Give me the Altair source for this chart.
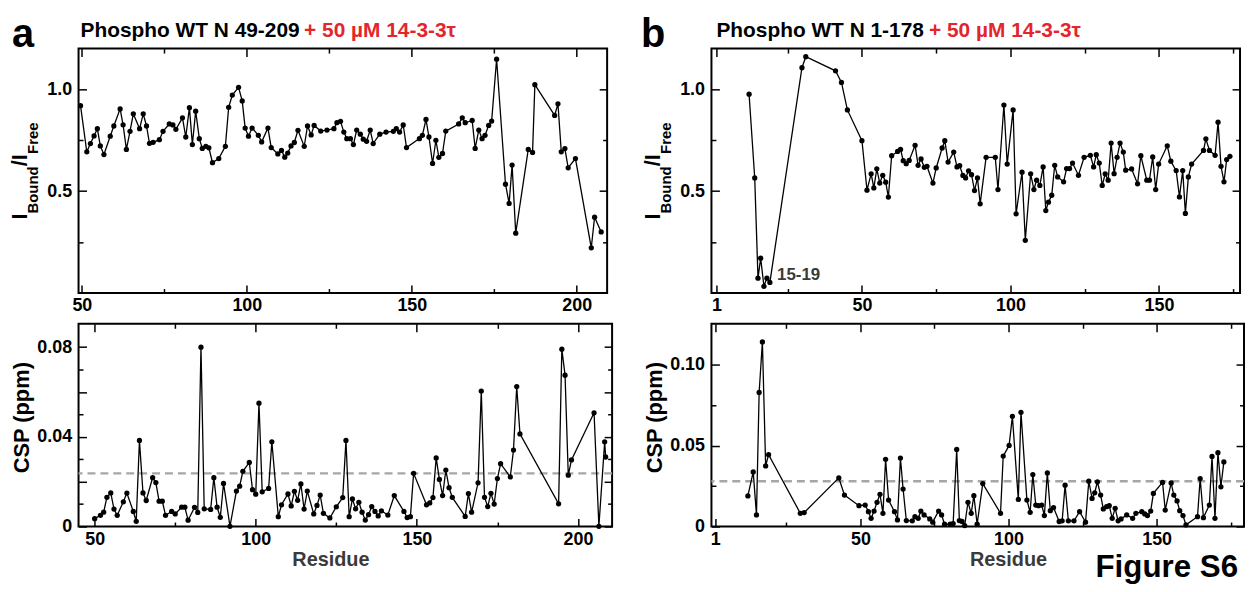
import altair as alt
import pandas as pd

FONT = "Liberation Sans"
RED = "#e3262b"

# ---------------- data ----------------
A_TOP_RES = [49.6, 51.5, 52.6, 53.7, 54.7, 55.6, 56.7, 58.6, 59.7, 61.6,
             62.5, 63.5, 64.6, 65.6, 67.5, 68.6, 69.6, 70.5, 71.6, 73.5,
             74.6, 76.5, 77.6, 78.5, 80.5, 81.5, 82.6, 83.5, 84.5, 85.6,
             86.5, 87.6, 88.5, 89.6, 91.5, 93.5, 94.5, 95.6, 97.5, 98.6,
             99.5, 100.5, 101.6, 103.5, 104.5, 106.4, 107.4, 109.4, 110.5, 111.5,
             112.4, 113.4, 114.4, 115.5, 117.4, 118.4, 119.5, 120.4, 122.4, 124.3,
             126.4, 127.3, 128.4, 129.4, 130.3, 131.4, 132.3, 133.3, 134.4, 135.3,
             136.3, 137.4, 138.3, 140.3, 142.2, 144.4, 145.3, 146.3, 147.4, 148.4,
             152.3, 153.2, 154.3, 155.2, 156.3, 157.3, 158.2, 159.3, 160.3, 164.2,
             165.3, 166.2, 168.3, 169.2, 170.3, 171.3, 172.2, 173.3, 174.2, 175.7,
             178.4, 179.5, 180.4, 181.5, 185.3, 186.6, 187.3, 193.3, 194.3, 195.3,
             196.4, 197.4, 199.6, 204.4, 205.4, 207.4]
A_TOP_VAL = [0.92, 0.693, 0.734, 0.771, 0.807, 0.722, 0.68, 0.77, 0.82, 0.904,
             0.826, 0.705, 0.794, 0.88, 0.807, 0.88, 0.82, 0.735, 0.74, 0.753,
             0.794, 0.83, 0.825, 0.804, 0.86, 0.766, 0.91, 0.729, 0.893, 0.758,
             0.71, 0.72, 0.713, 0.64, 0.66, 0.72, 0.912, 0.972, 1.01, 0.943,
             0.81, 0.77, 0.81, 0.774, 0.742, 0.81, 0.714, 0.683, 0.70, 0.667,
             0.687, 0.722, 0.739, 0.799, 0.72, 0.82, 0.776, 0.823, 0.795, 0.80,
             0.807, 0.836, 0.843, 0.79, 0.758, 0.758, 0.729, 0.80, 0.78, 0.755,
             0.745, 0.80, 0.734, 0.78, 0.79, 0.794, 0.807, 0.79, 0.825, 0.714,
             0.758, 0.774, 0.852, 0.766, 0.636, 0.75, 0.666, 0.685, 0.795, 0.83,
             0.86, 0.836, 0.847, 0.71, 0.80, 0.758, 0.774, 0.823, 0.844, 1.148,
             0.534, 0.44, 0.628, 0.294, 0.705, 0.69, 1.023, 0.872, 0.929, 0.693,
             0.709, 0.615, 0.66, 0.222, 0.372, 0.30]

A_BOT_RES = [50, 51.8, 52.8, 53.8, 55, 56, 57, 58.9, 60, 62,
             62.9, 63.9, 65, 66, 68, 69, 70, 71, 72, 73.9,
             75, 77, 78, 79, 81, 82, 83, 84, 86, 87,
             88, 89, 90, 92, 94, 95, 96, 98, 99, 100,
             101, 102, 104, 105, 107, 108, 110, 111, 112, 113,
             114, 115, 116, 118, 119, 120, 121, 123, 125, 127,
             128, 129, 130, 131, 132, 133, 134, 135, 136, 137,
             138, 139, 141, 143, 146, 147, 148, 149, 153, 154,
             155, 156, 157, 158, 159, 160, 161, 165, 166, 167,
             169, 170, 171, 172, 173, 174, 175, 176, 179, 180,
             181, 182, 194, 195, 196, 197, 198, 205, 206.5, 208.3,
             208.6]
A_BOT_VAL = [0.0035, 0.005, 0.0064, 0.013, 0.015, 0.0078, 0.005, 0.011, 0.0149, 0.0067,
             0.0023, 0.0384, 0.015, 0.0116, 0.0218, 0.0196, 0.0113, 0.0113, 0.005, 0.0067,
             0.0056, 0.0086, 0.0086, 0.0028, 0.0085, 0.0063, 0.080, 0.0079, 0.0076, 0.0218,
             0.0086, 0.0041, 0.0192, 0.0001, 0.0158, 0.018, 0.0246, 0.0286, 0.0164, 0.0144,
             0.055, 0.0155, 0.017, 0.0378, 0.0044, 0.0097, 0.0145, 0.0092, 0.0157, 0.0117,
             0.019, 0.0078, 0.0158, 0.0056, 0.0094, 0.014, 0.0059, 0.0038, 0.0088, 0.0129,
             0.0384, 0.0044, 0.0123, 0.0079, 0.0108, 0.0064, 0.0029, 0.0053, 0.0089, 0.0067,
             0.0047, 0.007, 0.0051, 0.0138, 0.0067, 0.004, 0.0044, 0.0237, 0.0097, 0.0105,
             0.0129, 0.0306, 0.021, 0.0138, 0.0252, 0.0173, 0.013, 0.0045, 0.0147, 0.0064,
             0.0195, 0.0604, 0.013, 0.0089, 0.0148, 0.010, 0.0214, 0.028, 0.0221, 0.0341,
             0.0624, 0.0413, 0.0101, 0.0791, 0.0675, 0.0229, 0.0297, 0.0507, 0.0001, 0.0378,
             0.031]

B_TOP_RES = [12, 13.9, 15, 15.9, 17, 18, 19, 29.8, 31.1, 41.1,
             43.1, 45.1, 50, 51.7, 53.1, 54, 55, 56, 57, 58,
             58.9, 60, 62, 63, 63.9, 64.9, 65.9, 67.9, 68.9, 69.9,
             71, 71.9, 73.9, 75, 77, 77.9, 79, 80.9, 82, 82.9,
             84, 84.9, 85.9, 86.9, 87.9, 88.9, 89.8, 91.8, 94.9, 95.8,
             97.8, 98.9, 100.9, 101.9, 103.9, 105, 106.8, 107.9, 108.8, 109.9,
             111, 111.9, 112.8, 113.9, 114.9, 115.9, 117.9, 118.9, 119.9, 120.9,
             122.9, 124.8, 126.9, 128, 128.9, 129.9, 130.9, 131.9, 132.9, 133.9,
             134.9, 135.9, 136.9, 138, 138.8, 140.8, 142.8, 143.9, 145.9, 146.8,
             147.9, 148.9, 149.9, 152.8, 154, 155.8, 156.9, 158, 158.9, 159.9,
             161, 165, 165.8, 167, 168.9, 169.9, 170.9, 171.9, 172.8, 173.9]
B_TOP_VAL = [0.976, 0.565, 0.073, 0.171, 0.033, 0.073, 0.052, 1.106, 1.16, 1.091,
             1.034, 0.899, 0.748, 0.505, 0.585, 0.516, 0.61, 0.54, 0.578, 0.544,
             0.471, 0.674, 0.695, 0.705, 0.65, 0.635, 0.651, 0.725, 0.627, 0.658,
             0.617, 0.622, 0.54, 0.614, 0.712, 0.748, 0.643, 0.692, 0.619, 0.625,
             0.577, 0.565, 0.60, 0.581, 0.503, 0.565, 0.438, 0.666, 0.666, 0.508,
             0.923, 0.633, 0.899, 0.389, 0.593, 0.259, 0.585, 0.508, 0.554, 0.528,
             0.619, 0.405, 0.446, 0.48, 0.627, 0.57, 0.546, 0.611, 0.611, 0.638,
             0.578, 0.666, 0.676, 0.619, 0.679, 0.638, 0.528, 0.585, 0.554, 0.736,
             0.586, 0.666, 0.736, 0.692, 0.603, 0.609, 0.536, 0.674, 0.554, 0.554,
             0.668, 0.508, 0.633, 0.723, 0.647, 0.601, 0.472, 0.601, 0.391, 0.57,
             0.633, 0.70, 0.757, 0.70, 0.676, 0.839, 0.622, 0.546, 0.655, 0.671]

B_BOT_RES = [12, 13.8, 14.9, 15.8, 16.9, 18, 19, 29.7, 31, 42.7,
             44.6, 49.5, 51.6, 52.7, 53.6, 54.6, 55.6, 56.6, 57.6, 58.5,
             59.5, 61.5, 62.5, 63.5, 64.4, 65.5, 67.5, 68.4, 69.5, 70.4,
             71.5, 73.4, 74.4, 76.4, 77.4, 78.4, 80.3, 81.3, 82.5, 83.4,
             84.3, 85.2, 86.3, 87.4, 88.3, 89.4, 91.3, 97.3, 98.2, 100.2,
             101.3, 103.3, 104.2, 106.2, 107.3, 108.2, 109.2, 110.1, 111.2, 112.1,
             113.1, 114.1, 115.2, 117.1, 118.1, 119.1, 120.2, 122.1, 124, 126,
             127.1, 128.2, 129.1, 130, 131.1, 132, 133.1, 134, 135, 136,
             137, 138, 139.9, 141.9, 143, 145, 146, 146.9, 148, 148.9,
             152, 152.9, 154.9, 155.8, 156.9, 157.8, 158.9, 159.9, 163.8, 164.7,
             165.8, 167.8, 168.7, 169.7, 170.7, 171.7, 172.7]
B_BOT_VAL = [0.0189, 0.0338, 0.0072, 0.083, 0.1143, 0.0375, 0.0445, 0.0082, 0.0086, 0.0301,
             0.0195, 0.0129, 0.0133, 0.0092, 0.0051, 0.0096, 0.015, 0.0199, 0.0082, 0.0416,
             0.0164, 0.0092, 0.0041, 0.0424, 0.0232, 0.0037, 0.0035, 0.0061, 0.0051, 0.0096,
             0.0072, 0.0047, 0.0027, 0.0096, 0.0072, 0.0014, 0.0014, 0.0018, 0.0477, 0.0037,
             0.0031, 0.0006, 0.015, 0.0082, 0.0191, 0.0014, 0.0266, 0.0082, 0.0436, 0.0502,
             0.0682, 0.0168, 0.0707, 0.0164, 0.0088, 0.0322, 0.0133, 0.0129, 0.0133, 0.0068,
             0.0332, 0.0098, 0.0117, 0.0031, 0.0035, 0.0256, 0.0035, 0.0035, 0.0092, 0.0027,
             0.0281, 0.0174, 0.0209, 0.0277, 0.0195, 0.0109, 0.0123, 0.0129, 0.0051, 0.0113,
             0.0035, 0.0047, 0.0072, 0.0051, 0.0082, 0.0092, 0.0078, 0.0068, 0.0096, 0.0205,
             0.0273, 0.0102, 0.027, 0.0195, 0.0158, 0.0098, 0.0068, 0.001, 0.0061, 0.0297,
             0.0055, 0.0133, 0.0434, 0.0051, 0.0457, 0.0246, 0.040]

A_THRESH = [0.0237]
B_THRESH = [0.028]

# tick values: major (long, may carry a label), minor (short), labelled
A_X_MAJOR = [50, 100, 150, 200]
A_X_MINOR = [75, 125, 175]
A_X_LABELED = [50, 100, 150, 200]
B_X_MAJOR = [1, 50, 100, 150]
B_X_MINOR = [25, 75, 125, 175]
B_X_LABELED = [1, 50, 100, 150]
TOP_Y_MAJOR = [0.5, 1.0]
TOP_Y_MINOR = [0.25, 0.75]
TOP_Y_LABELED = [0.5, 1.0]
A_CSP_MAJOR = [0, 0.02, 0.04, 0.06, 0.08]
A_CSP_MINOR = [0.01, 0.03, 0.05, 0.07]
A_CSP_LABELED = [0, 0.04, 0.08]
B_CSP_MAJOR = [0, 0.05, 0.1]
B_CSP_MINOR = [0.025, 0.075]
B_CSP_LABELED = [0, 0.05, 0.1]

TITLE_A = "Phospho WT N 49-209"
TITLE_B = "Phospho WT N 1-178"
TITLE_RED = "+ 50 \u00b5M 14-3-3\u03c4"
YT_MAIN = ["I", "/I"]
YT_SUB = ["Bound", "Free"]
CSP_TITLE = "CSP (ppm)"
X_TITLE = "Residue"
ANNOT = "15-19"
FIG_LABEL = "Figure S6"

# ---------------- helpers ----------------
MAJ = 8
MIN = 4.5
AXC = dict(domain=False, grid=False, ticks=True, tickWidth=1.5,
           tickColor="black", title=None, labelFont=FONT,
           labelFontSize=18, labelFontWeight="bold", labelColor="black",
           labelFlush=False, labelOverlap=False)
AX_MAJ = dict(AXC, tickSize=MAJ, offset=-MAJ)
AX_MIN = dict(AXC, tickSize=MIN, offset=-MIN, labels=False)


def lab_expr(labeled, fmt):
    arr = "[" + ",".join(str(v) for v in labeled) + "]"
    return (f"indexof({arr}, datum.value) >= 0 ? "
            f"(datum.value == 0 ? '0' : format(datum.value, '{fmt}')) : ''")


def txt(s, x, y, size, color="black", angle=0, align="left", baseline="alphabetic"):
    kw = dict(align=align, baseline=baseline, fontSize=size, fontWeight="bold",
              font=FONT, color=color)
    if angle:
        kw["angle"] = angle
    return alt.Chart(pd.DataFrame({"t": [s]})).mark_text(**kw).encode(
        text="t:N", x=alt.value(x), y=alt.value(y))


def panel(res, val, xdom, ydom, w, h, xmaj, xmin, xlab, xfmt,
          ymaj, ymin, ylab, yfmt, pre=(), post=()):
    df = pd.DataFrame({"res": res, "val": val})
    xs = alt.Scale(domain=xdom, nice=False, zero=False)
    ys = alt.Scale(domain=ydom, nice=False, zero=False)
    base = alt.Chart(df)
    line = base.mark_line(color="black", strokeWidth=1.3).encode(
        x=alt.X("res:Q", scale=xs, axis=alt.Axis(orient="bottom", values=xmaj,
                labelExpr=lab_expr(xlab, xfmt), labelPadding=4, **AX_MAJ)),
        y=alt.Y("val:Q", scale=ys, axis=alt.Axis(orient="left", values=ymaj,
                labelExpr=lab_expr(ylab, yfmt), labelPadding=7, **AX_MAJ)))
    pts = base.mark_circle(size=28, color="black", opacity=1).encode(
        x=alt.X("res:Q", scale=xs, axis=alt.Axis(orient="top", values=xmaj,
                labels=False, **AX_MAJ)),
        y=alt.Y("val:Q", scale=ys, axis=alt.Axis(orient="right", values=ymaj,
                labels=False, **AX_MAJ)))
    # invisible carriers for the short (minor) ticks
    minor1 = base.mark_point(opacity=0).encode(
        x=alt.X("res:Q", scale=xs, axis=alt.Axis(orient="bottom", values=xmin, **AX_MIN)),
        y=alt.Y("val:Q", scale=ys, axis=alt.Axis(orient="left", values=ymin, **AX_MIN)))
    minor2 = base.mark_point(opacity=0).encode(
        x=alt.X("res:Q", scale=xs, axis=alt.Axis(orient="top", values=xmin, **AX_MIN)),
        y=alt.Y("val:Q", scale=ys, axis=alt.Axis(orient="right", values=ymin, **AX_MIN)))
    layers = [*[p(ys) for p in pre], line, pts, minor1, minor2, *post]
    return alt.layer(*layers).resolve_axis(
        x="independent", y="independent").properties(width=w, height=h)


def thresh(vals):
    def make(ys):
        return alt.Chart(pd.DataFrame({"thr": vals})).mark_rule(
            color="#a6a6a6", strokeWidth=2.5, strokeDash=[8, 5]).encode(
            y=alt.Y("thr:Q", scale=ys, axis=None))
    return make


def ytitle_top():
    return [
        txt(YT_MAIN[0], -52, 172, 22, angle=270),
        txt(YT_SUB[0], -40.5, 166, 15, angle=270),
        txt(YT_MAIN[1], -52, 118.5, 22, angle=270),
        txt(YT_SUB[1], -40.5, 106, 15, angle=270),
    ]


a_top = panel(A_TOP_RES, A_TOP_VAL, [49, 209.2], [0, 1.2], 532, 246,
              A_X_MAJOR, A_X_MINOR, A_X_LABELED, "d",
              TOP_Y_MAJOR, TOP_Y_MINOR, TOP_Y_LABELED, ".1f",
              post=[txt("a", -67, -2, 40), txt(TITLE_A, 2, -12, 21),
                    txt(TITLE_RED, 227, -12, 21, color=RED), *ytitle_top()])

b_top = panel(B_TOP_RES, B_TOP_VAL, [-0.67, 177.3], [0, 1.2], 532, 246,
              B_X_MAJOR, B_X_MINOR, B_X_LABELED, "d",
              TOP_Y_MAJOR, TOP_Y_MINOR, TOP_Y_LABELED, ".1f",
              post=[txt("b", -71, -2, 40), txt(TITLE_B, 5, -12, 21),
                    txt(TITLE_RED, 219, -12, 21, color=RED), *ytitle_top(),
                    txt(ANNOT, 66, 233, 17, color="#3a3a3a")])

a_bot = panel(A_BOT_RES, A_BOT_VAL, [45, 210.6], [0, 0.0904], 537, 204,
              A_X_MAJOR, A_X_MINOR, A_X_LABELED, "d",
              A_CSP_MAJOR, A_CSP_MINOR, A_CSP_LABELED, ".2f",
              pre=[thresh(A_THRESH)],
              post=[txt(CSP_TITLE, -50, 94.5, 22, angle=270, align="center"),
                    txt(X_TITLE, 254, 244, 20, color="#3a3a3a", align="center")])

b_bot = panel(B_BOT_RES, B_BOT_VAL, [-0.3, 179.5], [0, 0.1255], 536, 204,
              B_X_MAJOR, B_X_MINOR, B_X_LABELED, "d",
              B_CSP_MAJOR, B_CSP_MINOR, B_CSP_LABELED, ".2f",
              pre=[thresh(B_THRESH)],
              post=[txt(CSP_TITLE, -50, 94.5, 22, angle=270, align="center"),
                    txt(X_TITLE, 299, 244, 20, color="#3a3a3a", align="center"),
                    txt(FIG_LABEL, 530, 255, 31.5, align="right")])

chart = alt.concat(a_top, b_top, a_bot, b_bot, columns=2,
                   spacing={"row": 31, "column": 100}).properties(
    bounds="flush",
    autosize=alt.AutoSizeParams(type="none"),
    padding={"left": 71, "top": 39, "right": 1174, "bottom": 537},
).configure_view(stroke="black", strokeWidth=2)

chart.save("out.html", embed_options={"renderer": "svg", "actions": False})
